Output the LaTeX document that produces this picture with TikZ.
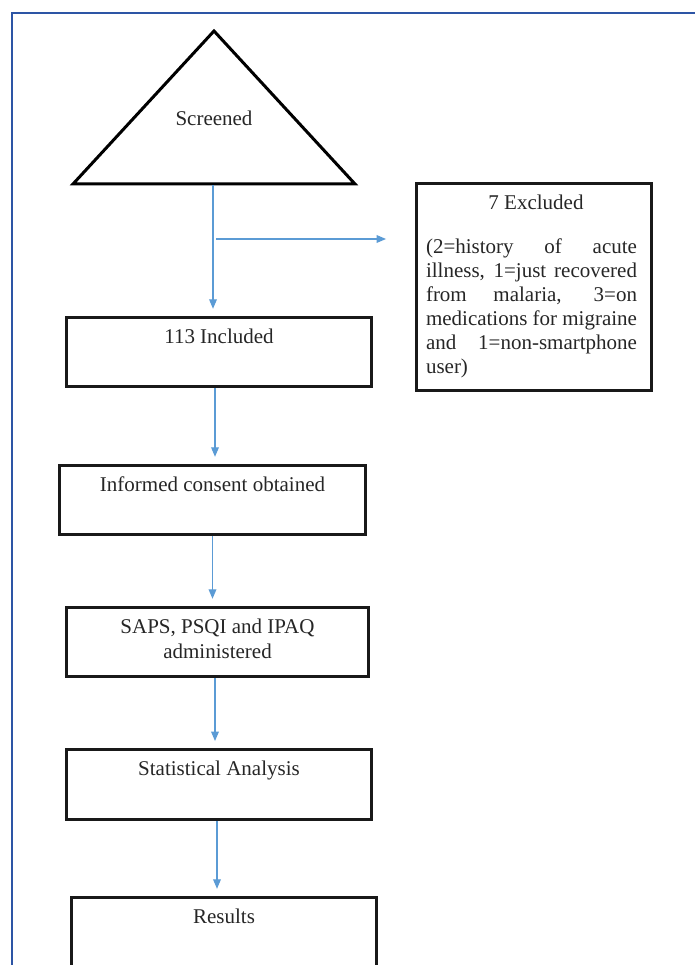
\documentclass[tikz,border=0pt]{standalone}
\usepackage{fontspec}
\setmainfont{Liberation Serif}
\usetikzlibrary{arrows,positioning}
\definecolor{flowblue}{RGB}{91,155,213}
\definecolor{frameblue}{RGB}{45,85,165}
\newcommand\nohyph{\hyphenpenalty=10000\exhyphenpenalty=10000\relax}

\begin{document}
\begin{tikzpicture}[x=1pt,y=-1pt]

\tikzstyle{box} = [draw=black!90, line width=3pt, inner sep=0, minimum height=69.5]
\tikzstyle{txt} = [inner sep=0, text=black!85, font=\fontsize{21}{24}\selectfont]
\tikzstyle{flow} = [-triangle 45, draw=flowblue, line width=1.2pt, shorten >=7pt]

\useasboundingbox (0,0) rectangle (695,965);
\draw[frameblue, line width=1.3pt] (695,13) -- (12,13) -- (12,965);

% screening triangle
\coordinate (apex) at (214,31);
\coordinate (baseL) at (73,184);
\coordinate (baseR) at (355,184);
\draw[line width=3pt] (apex) -- (baseR) -- (baseL) -- cycle;
\node[txt] (scr) at (214,118) {Screened};
\coordinate (scrBase) at (213,185.5);

% main column
\node[box, minimum width=305] (inc) at (219,352) {};
\node[txt, below=13pt of inc.north] (incT) {113 Included};

\node[box, minimum width=306] (inf) at (212.5,500) {};
\node[txt, below=13pt of inf.north] (infT) {Informed consent obtained};

\node[box, minimum width=302] (saps) at (217.5,642) {};
\node[txt, align=center, font=\fontsize{21}{25}\selectfont, below=13pt of saps.north] (sapsT) {SAPS, PSQI and IPAQ\\administered};

\node[box, minimum width=305, minimum height=70] (stat) at (219,784.5) {};
\node[txt, below=13pt of stat.north] (statT) {Statistical Analysis};

\node[box, minimum width=305] (res) at (224,932) {};
\node[txt, below=13pt of res.north] (resT) {Results};

% excluded box
\node[box, minimum width=235, minimum height=207] (excl) at (534,287) {};
\node[txt, below=13pt of excl.north, xshift=2pt] (exclT) {7 Excluded};
\node[txt, text width=211pt, align=justify, below=28pt of exclT, xshift=-4.5pt,
font=\fontsize{21}{24}\selectfont\nohyph] (exclR)
{(2=history of acute illness, 1=just recovered from malaria, 3=on medications for migraine and 1=non-smartphone user)};

% connectors
\draw[flow] (scrBase) -- (scrBase |- inc.north);
\coordinate (brStart) at (216,239);
\coordinate (brEnd) at (386,239);
\draw[flow, shorten >=0pt] (brStart) -- (brEnd);
\draw[flow] ([xshift=-4pt]inc.south) -- ([xshift=-4pt]inc.south |- inf.north);
\draw[flow] (inf.south) -- (inf.south |- saps.north);
\draw[flow] ([xshift=-2.5pt]saps.south) -- ([xshift=-2.5pt]saps.south |- stat.north);
\draw[flow] ([xshift=-2pt]stat.south) -- ([xshift=-2pt]stat.south |- res.north);

\end{tikzpicture}
\end{document}
